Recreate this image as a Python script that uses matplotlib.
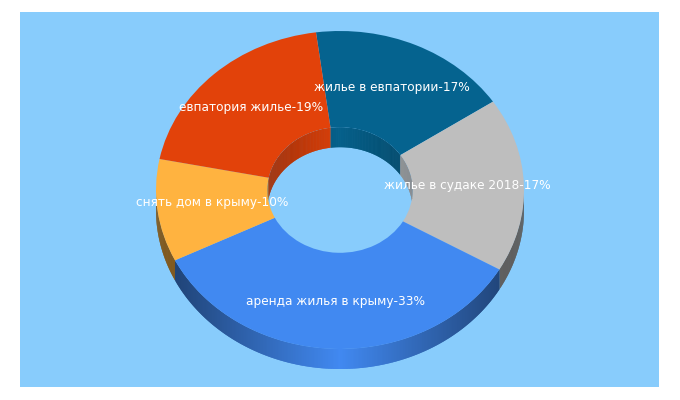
import numpy as np
import matplotlib
matplotlib.use("Agg")
import matplotlib.pyplot as plt
from matplotlib.collections import PolyCollection
from matplotlib.colors import to_rgb
from matplotlib.patches import Ellipse

#### data ####
labels = ['жилье в евпатории-17%', 'жилье в судаке 2018-17%', 'аренда жилья в крыму-33%',
          'снять дом в крыму-10%', 'евпатория жилье-19%']
values = [17, 17, 33, 10, 19]
colors = ['#05638F', '#BEBEBE', '#4189F1', '#FFB340', '#E2420A']

BG = '#88CCFC'
W, H = 680, 400
CX, CY = 340, 190       # centre of the top face, px
RX, RY = 184, 159
HOLE = 0.395
DEPTH = 20 / RY
START = 97.5

#### configure plot ####
fig = plt.figure(figsize=(W / 100, H / 100), dpi=100, facecolor='white')

panel = fig.add_axes([20 / W, 1 - 387 / H, 639 / W, 375 / H], facecolor=BG)
panel.set_xticks([])
panel.set_yticks([])
for s in panel.spines.values():
    s.set_visible(False)

ax = fig.add_axes([0, 0, 1, 1])
ax.patch.set_alpha(0)

# slice limits in degrees, going clockwise like the pie does
frac = np.array(values) / sum(values)
edges = START - 360 * np.concatenate([[0], np.cumsum(frac)])


def strips(a0, a1, radius, color, shade):
    t = np.radians(np.linspace(a0, a1, max(int(abs(a1 - a0) * 2), 3)))
    x = radius * np.cos(t)
    y = radius * np.sin(t)
    polys, faces = [], []
    base = np.array(to_rgb(color))
    # each strip runs over the next one so no seams show
    for i in range(len(t) - 1):
        j = min(i + 2, len(t) - 1)
        polys.append([(x[i], y[i]), (x[i + 1], y[i + 1]), (x[j], y[j]),
                      (x[j], y[j] - DEPTH), (x[i + 1], y[i + 1] - DEPTH), (x[i], y[i] - DEPTH)])
        faces.append(base * shade((x[i] + x[i + 1]) / 2))
    return PolyCollection(polys, facecolors=faces, edgecolors='none', linewidths=0)


def outer_shade(x):
    return 0.5 + 0.5 * max(0, 1 - abs(x) / 0.89)


def inner_shade(x):
    return 0.72 + 0.25 * max(0, 1 - abs(x) / HOLE)


# outer wall, only the front half shows
for i in range(len(values)):
    hi, lo = edges[i], edges[i + 1]
    for k in (0, -360):
        a1, a0 = min(hi + k, 0), max(lo + k, -180)
        if a1 > a0:
            ax.add_collection(strips(a0, a1, 1.0, colors[i], outer_shade))

ax.pie(values, colors=colors, startangle=START, counterclock=False, radius=1,
       wedgeprops=dict(width=1 - HOLE, linewidth=0))

ax.set_aspect('auto')
ax.set_xlim((0 - CX) / RX, (W - CX) / RX)
ax.set_ylim((CY - H) / RY, CY / RY)
ax.axis('off')

# inner wall, the back half of the hole
hole = Ellipse((0, 0), 2 * HOLE, 2 * HOLE, facecolor='none', edgecolor='none')
ax.add_patch(hole)
for i in range(len(values)):
    hi, lo = edges[i], edges[i + 1]
    for k in (0, 360):
        a1, a0 = min(hi + k, 180), max(lo + k, 0)
        if a1 > a0:
            wall = strips(a0, a1, HOLE, colors[i], inner_shade)
            ax.add_collection(wall)
            wall.set_clip_path(hole)

#### labels ####
label_pos = [(392, 87), (467, 185), (335, 301), (212, 203), (251, 107)]
for txt, (px, py) in zip(labels, label_pos):
    fig.text(px / W, 1 - py / H, txt, color='white', fontsize=8.7,
             ha='center', va='center', family='DejaVu Sans')

fig.savefig('out.png', dpi=100)
